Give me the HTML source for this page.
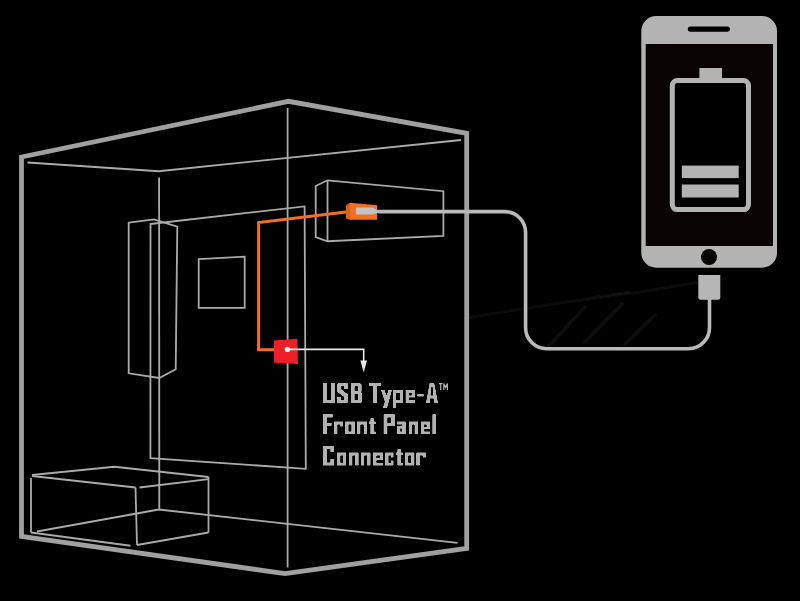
<!DOCTYPE html>
<html><head><meta charset="utf-8">
<style>
html,body{margin:0;padding:0;background:#000;}
body{width:800px;height:601px;overflow:hidden;position:relative;}
svg{position:absolute;left:0;top:0;}
</style></head>
<body>
<svg width="800" height="601" viewBox="0 0 800 601">
<rect width="800" height="601" fill="#000"/>
<defs><filter id="bl" x="-10%" y="-10%" width="120%" height="120%"><feGaussianBlur stdDeviation="1"/></filter></defs>
<g fill="none" stroke-linecap="round" filter="url(#bl)">
<path d="M466,318 L560,303 L640,292 L700,282" stroke="#121212" stroke-width="1.8"/>
<path d="M585,299 L630,292" stroke="#1a1a1a" stroke-width="1.6"/>
<path d="M548,347 L585,307" stroke="#0b0b0b" stroke-width="4"/>
<path d="M585,342 L622,304" stroke="#0b0b0b" stroke-width="4"/>
<path d="M625,344 L655,315" stroke="#0b0b0b" stroke-width="4"/>
</g><!-- outer case -->
<polygon points="21.5,157 288.5,101.3 466.7,133.3 466.7,548.5 285,573.6 21.5,536.5" fill="none" stroke="#a0a0a0" stroke-width="4.8" stroke-linejoin="miter"/>
<g fill="none" stroke="#aaaaaa" stroke-width="1.8" stroke-linejoin="miter">
<line x1="287.6" y1="108" x2="287.6" y2="567.5"/>
<polyline points="27.5,162.5 158.75,171.25 461,140"/>
<line x1="159.1" y1="177.5" x2="159.3" y2="509.5"/>
<polyline points="37,531.5 158.75,509.5 457.5,542.8"/>
<polygon points="150.5,224 304.6,206.4 305.8,468.8 150.4,458.2"/>
<polygon points="128.7,222.7 154,219.3 177.3,226.7 175.7,369.3 159.3,378 128.7,373.3"/>
<polygon points="198.7,259.2 244.7,256.6 244.7,307.9 198.7,307.9"/>
<polygon points="315.7,186 327.5,180.3 443.4,191.2 443.4,236 327.5,241.25 315.7,237"/>
<line x1="327.5" y1="180.3" x2="327.5" y2="241.25"/>
<polyline points="32,475 114.5,466.75 208.5,477"/>
<polyline points="32,476 135.5,487.5"/>
<polyline points="139.5,487.5 208.5,479.2"/>
<line x1="31" y1="478" x2="31" y2="532.5"/>
<line x1="135.5" y1="487.5" x2="137" y2="545"/>
<line x1="208.5" y1="477" x2="208.5" y2="532.5"/>
<polyline points="31,532.5 130.5,545.75"/>
<polyline points="137,545 208.5,532.5"/>
</g>
<!-- orange wire -->
<polyline points="274,349.7 258.6,349.7 258.6,222.6 346,211.9" fill="none" stroke="#f36f21" stroke-width="3"/>
<!-- connector -->
<polygon points="345.9,205.6 350,202.8 350,219.7 345.9,218.4" fill="#dc5f1c"/>
<polygon points="350,202.8 377.2,205.25 377.2,219.7 350,219.7" fill="#f36f21"/>
<polygon points="356,207.5 372.5,207.5 378,210.3 378,212.75 372.5,214.6 356,214.6" fill="#c4c4c4"/>
<!-- cable -->
<path d="M378,211.6 H504.6 A21,21 0 0 1 525.6,232.6 V327.7 A21,21 0 0 0 546.6,348.7 H688.5 A21,21 0 0 0 709.5,327.7 V298" fill="none" stroke="#bababa" stroke-width="3.6"/>
<path d="M698.3,275H720.3V297.5Q720.3,299.8 718,299.8H700.6Q698.3,299.8 698.3,297.5Z" fill="#b6b6b6"/>
<!-- phone -->
<rect x="641.3" y="16" width="135.7" height="251.7" rx="15" fill="#b3b3b3"/>
<rect x="645.7" y="44" width="127.3" height="202" fill="#090304"/>
<rect x="687.8" y="26.4" width="42.2" height="5.3" rx="2.65" fill="#000"/>
<circle cx="709" cy="257" r="8" fill="#0a0505"/>
<rect x="672.3" y="80.6" width="76.2" height="129" rx="5" fill="#000" stroke="#b3b3b3" stroke-width="5"/>
<rect x="699.4" y="68" width="22.6" height="12" fill="#b3b3b3"/>
<rect x="681.8" y="165.6" width="56.9" height="12.5" fill="#b3b3b3"/>
<rect x="681.8" y="184.5" width="56.9" height="13" fill="#b3b3b3"/>
<!-- red box -->
<polygon points="274,340.4 297.4,338.8 298,364 274,362.7" fill="#ef1d25"/>
<polyline points="287.4,349.4 363.7,349.4 363.7,361" fill="none" stroke="#e8e8e8" stroke-width="1.6"/>
<polygon points="360.4,360.5 367,360.5 363.7,372.5" fill="#e8e8e8"/>
<circle cx="287.4" cy="349.4" r="2.7" fill="#e0f4f4"/>
<filter id="rnd" x="-5%" y="-5%" width="110%" height="110%"><feGaussianBlur stdDeviation="0.6"/><feComponentTransfer><feFuncA type="linear" slope="2.4" intercept="-0.7"/></feComponentTransfer></filter>
<path d="M323,383.1H326.8V403.1H323ZM331.1,383.1H334.9V403.1H331.1ZM323,399.7H334.9V402.9H323ZM337.7,383.1H348V386.3H337.7ZM337.1,383.9H340.9V391.1H337.1ZM344.2,394.6H348V402.3H344.2ZM337.1,399.9H347.4V403.1H337.1ZM344.2,383.1H348V389.3H344.2ZM337.1,396.8H340.9V403.1H337.1ZM350.8,383.1H354.6V403.1H350.8ZM350.8,383.1H360.4V386.3H350.8ZM350.8,391.2H360.8V394H350.8ZM350.8,399.9H360.8V403.1H350.8ZM357.8,384.3H361.6V391.7H357.8ZM358.2,393.5H362V402.1H358.2ZM369.3,383.1H380.7V386H369.3ZM373.05,383.1H376.95V403.1H373.05ZM392.9,390H396.3V407.7H392.9ZM392.9,390H403.2V392.8H392.9ZM399.8,390H403.2V402.7H399.8ZM392.9,400.3H402.7V403.1H392.9ZM405.6,390H415.1V392.8H405.6ZM405.6,390H409V403.1H405.6ZM411.7,390H415.1V397.6H411.7ZM405.6,395.6H415.1V397.6H405.6ZM405.6,400.3H415.1V403.1H405.6ZM417.3,394.2H423.8V396.5H417.3ZM428.3,395.4H435.6V398.4H428.3ZM323,414.3H326.8V434.3H323ZM323,414.3H332.8V417.5H323ZM323,422.9H331.6V425.7H323ZM334,421.6H337.4V434.3H334ZM334,421.6H343.3V424.4H334ZM340.1,421.6H343.3V426.6H340.1ZM345.1,421.6H354.8V424.4H345.1ZM345.1,431.5H354.8V434.3H345.1ZM345.1,421.6H348.5V434.3H345.1ZM351.4,421.6H354.8V434.3H351.4ZM357,421.6H360.4V434.3H357ZM357,421.6H367.1V424.4H357ZM363.7,421.6H367.1V434.3H363.7ZM370.4,418.2H373.8V434.3H370.4ZM368.8,421.6H375.7V424H368.8ZM370.4,431.5H375.7V434.3H370.4ZM383.6,414.3H387.4V434.3H383.6ZM383.6,414.3H394.7V417.4H383.6ZM390.9,414.3H394.7V426H390.9ZM383.6,423.3H394.7V426H383.6ZM396.8,421.6H405.7V424.4H396.8ZM402.3,421.6H405.7V434.3H402.3ZM396.8,431.5H405.7V434.3H396.8ZM396.8,426.2H400.2V434.3H396.8ZM396.8,426.2H405.7V428.4H396.8ZM408.9,421.6H412.3V434.3H408.9ZM408.9,421.6H418V424.4H408.9ZM414.6,421.6H418V434.3H414.6ZM420.8,421.6H430V424.4H420.8ZM420.8,421.6H424.2V434.3H420.8ZM426.6,421.6H430V429.2H426.6ZM420.8,427.2H430V429.2H420.8ZM420.8,431.5H430V434.3H420.8ZM432.4,414.3H435.8V434.3H432.4ZM323,445.7H334.2V448.8H323ZM323,445.7H326.8V465.5H323ZM323,462.5H334.2V465.5H323ZM330.4,445.7H334.2V452H330.4ZM330.4,459H334.2V465.5H330.4ZM337,452.6H346.3V455.4H337ZM337,462.7H346.3V465.5H337ZM337,452.6H340.4V465.5H337ZM342.9,452.6H346.3V465.5H342.9ZM349,452.6H352.4V465.5H349ZM349,452.6H358.6V455.4H349ZM355.2,452.6H358.6V465.5H355.2ZM360.9,452.6H364.3V465.5H360.9ZM360.9,452.6H370.5V455.4H360.9ZM367.1,452.6H370.5V465.5H367.1ZM373,452.6H383.3V455.4H373ZM373,452.6H376.4V465.5H373ZM379.9,452.6H383.3V460.2H379.9ZM373,458.2H383.3V460.2H373ZM373,462.7H383.3V465.5H373ZM385.1,452.6H393.5V455.4H385.1ZM385.1,452.6H388.5V465.5H385.1ZM385.1,462.7H393.5V465.5H385.1ZM390.9,452.6H393.5V457.4H390.9ZM390.9,460.5H393.5V465.5H390.9ZM397.4,449.2H400.8V465.5H397.4ZM395.8,452.6H402.8V455H395.8ZM397.4,462.7H402.8V465.5H397.4ZM404.9,452.6H414.4V455.4H404.9ZM404.9,462.7H414.4V465.5H404.9ZM404.9,452.6H408.3V465.5H404.9ZM411,452.6H414.4V465.5H411ZM416.3,452.6H419.7V465.5H416.3ZM416.3,452.6H425.9V455.4H416.3ZM422.7,452.6H425.9V457.6H422.7ZM337.1,389.1L340.9,389.1L348,394.5L348,397.1L344.2,397.1L337.1,391.7ZM359.9,383.1L361.6,384.7L361.6,386.1L359.9,386.1ZM360.4,391.2L362,393.6L360.4,393.6ZM360.8,399.9L362,399.9L362,401.9L360.8,403.1ZM381,390L384.6,390L388.4,401.5L384.9,402.1ZM388.4,390L392,390L387.2,407.7L382.9,407.7ZM429.65,383.1L434.25,383.1L438,403.1L434.2,403.1L432.45,386.5L431.45,386.5L429.7,403.1L425.9,403.1Z" fill="#b2b2b2" filter="url(#rnd)"/>
<path d="M438.8,383.6H442.6M440.7,383.6V390M443.8,390V383.4L445.6,387.6L447.4,383.4V390" fill="none" stroke="#b2b2b2" stroke-width="1.2"/>

</svg>
</body></html>
